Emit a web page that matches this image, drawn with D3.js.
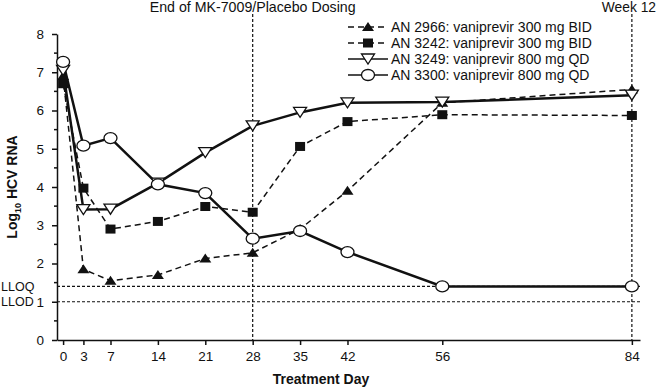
<!DOCTYPE html>
<html>
<head>
<meta charset="utf-8">
<script src="https://cdn.jsdelivr.net/npm/d3@7"></script>
<style>
  body { margin: 0; background: #fff; }
  text { font-family: "Liberation Sans", Arial, sans-serif; fill: #111; }
</style>
</head>
<body>
<div id="chart"></div>
<script>
// treatment days and log10 HCV RNA per patient
var days = [0, 3, 7, 14, 21, 28, 35, 42, 56, 84];
var an2966 = [6.9, 1.85, 1.55, 1.7, 2.13, 2.28, 2.9, 3.9, 6.2, 6.55];
var an3242 = [6.7, 3.97, 2.9, 3.1, 3.49, 3.34, 5.06, 5.71, 5.89, 5.87];
var an3249 = [7.05, 3.41, 3.42, 4.1, 4.9, 5.6, 5.95, 6.2, 6.22, 6.4];
var an3300 = [7.27, 5.08, 5.28, 4.07, 3.84, 2.65, 2.85, 2.3, 1.4, 1.4];
var seriesNames = ["AN 2966: vaniprevir 300 mg BID", "AN 3242: vaniprevir 300 mg BID",
                   "AN 3249: vaniprevir 800 mg QD", "AN 3300: vaniprevir 800 mg QD"];
var yTicks = [0, 1, 2, 3, 4, 5, 6, 7, 8];
var limits = [{name: "LLOQ", value: 1.4}, {name: "LLOD", value: 1}];
var markers = [{day: 28, label: "End of MK-7009/Placebo Dosing"}, {day: 84, label: "Week 12"}];

var width = 658, height = 387;
var svg = d3.select("#chart").append("svg")
  .attr("width", width).attr("height", height);

var x = d3.scaleLinear().domain([-0.9, 85.2]).range([57, 640]);
var y = d3.scaleLinear().domain([0, 8]).range([340, 34]);

// axes
var xAxis = svg.append("g")
  .attr("transform", "translate(0," + y(0) + ")")
  .call(d3.axisBottom(x).tickValues(days).tickSize(5).tickSizeOuter(0));
var yAxis = svg.append("g")
  .attr("transform", "translate(" + x.range()[0] + ",0)")
  .call(d3.axisLeft(y).tickValues(yTicks).tickSize(5).tickPadding(8).tickSizeOuter(0));
// minor ticks
yAxis.selectAll(".minor")
  .data(d3.range(0.5, 8, 1))
  .enter().append("line")
    .attr("x1", 0).attr("x2", -3)
    .attr("y1", function(d) { return y(d); })
    .attr("y2", function(d) { return y(d); })
    .attr("stroke", "#111");
[xAxis, yAxis].forEach(function(g) {
  g.selectAll("path, line").attr("stroke", "#111").attr("stroke-width", 1.5);
  g.selectAll("text").attr("font-size", 13.5).attr("font-family", "Liberation Sans, Arial, sans-serif").attr("fill", "#111");
});
xAxis.selectAll("text").attr("dy", "0.95em");

// LLOQ / LLOD lines
limits.forEach(function(l) {
  svg.append("line")
    .attr("x1", x.range()[0]).attr("x2", x.range()[1])
    .attr("y1", y(l.value)).attr("y2", y(l.value))
    .attr("stroke", "#111").attr("stroke-width", 1.2)
    .attr("stroke-dasharray", "3,2");
  svg.append("text")
    .attr("x", 1).attr("y", y(l.value))
    .attr("dy", "0.35em")
    .attr("font-size", 12.5)
    .text(l.name);
});

// vertical reference lines
markers.forEach(function(m, i) {
  svg.append("line")
    .attr("x1", x(m.day)).attr("x2", x(m.day))
    .attr("y1", 14).attr("y2", y(0))
    .attr("stroke", "#111").attr("stroke-width", 1.2)
    .attr("stroke-dasharray", "3,2");
  var last = i === markers.length - 1;
  svg.append("text")
    .attr("x", last ? width - 2 : x(m.day)).attr("y", 12)
    .attr("text-anchor", last ? "end" : "middle")
    .attr("font-size", last ? 13.8 : 14.2)
    .text(m.label);
});

// axis titles
svg.append("text")
  .attr("x", 321).attr("y", 384)
  .attr("text-anchor", "middle")
  .attr("font-size", 14).attr("font-weight", "bold")
  .text("Treatment Day");
var yl = svg.append("text")
  .attr("transform", "translate(17," + y(4) + ") rotate(-90)")
  .attr("text-anchor", "middle")
  .attr("font-size", 14).attr("font-weight", "bold");
yl.append("tspan").text("Log");
yl.append("tspan").attr("font-size", 9).attr("dy", 4).text("10");
yl.append("tspan").attr("dy", -4).text(" HCV RNA");

// series
var series = [
  {name: seriesNames[0], values: an2966, dash: "6,4", width: 1.5, shape: "triUp"},
  {name: seriesNames[1], values: an3242, dash: "6,4", width: 1.5, shape: "square"},
  {name: seriesNames[2], values: an3249, dash: null, width: 2.5, shape: "triDown"},
  {name: seriesNames[3], values: an3300, dash: null, width: 2.5, shape: "circle"}
];

var line = d3.line()
  .x(function(d) { return x(d[0]); })
  .y(function(d) { return y(d[1]); });

function drawMarker(g, shape, cx, cy) {
  if (shape === "triUp") {
    g.append("path")
      .attr("d", "M" + cx + "," + (cy - 5) + "L" + (cx + 6) + "," + (cy + 4) + "L" + (cx - 6) + "," + (cy + 4) + "Z")
      .attr("fill", "#111");
  } else if (shape === "square") {
    g.append("rect")
      .attr("x", cx - 5).attr("y", cy - 4.5).attr("width", 10).attr("height", 9)
      .attr("fill", "#111");
  } else if (shape === "triDown") {
    g.append("path")
      .attr("d", "M" + (cx - 6.5) + "," + (cy - 5) + "L" + (cx + 6.5) + "," + (cy - 5) + "L" + cx + "," + (cy + 5) + "Z")
      .attr("fill", "#fff").attr("stroke", "#111").attr("stroke-width", 1.3);
  } else {
    g.append("ellipse")
      .attr("cx", cx).attr("cy", cy).attr("rx", 6.5).attr("ry", 5.5)
      .attr("fill", "#fff").attr("stroke", "#111").attr("stroke-width", 1.3);
  }
}

series.forEach(function(s) {
  var pts = days.map(function(d, i) { return [d, s.values[i]]; });
  svg.append("path")
    .datum(pts)
    .attr("fill", "none")
    .attr("stroke", "#111")
    .attr("stroke-width", s.width)
    .attr("stroke-dasharray", s.dash)
    .attr("d", line);
});
series.forEach(function(s) {
  var g = svg.append("g");
  days.forEach(function(d, i) { drawMarker(g, s.shape, x(d), y(s.values[i])); });
});

// legend
var legend = svg.append("g").attr("transform", "translate(348,27)");
series.forEach(function(s, i) {
  var row = legend.append("g").attr("transform", "translate(0," + (i * 16) + ")");
  row.append("line")
    .attr("x1", 0).attr("x2", 40).attr("y1", 0).attr("y2", 0)
    .attr("stroke", "#111").attr("stroke-width", s.dash ? 1.5 : 1.3)
    .attr("stroke-dasharray", s.dash ? "6,4" : null);
  drawMarker(row, s.shape, 20, 0);
  row.append("text")
    .attr("x", 43).attr("y", 0).attr("dy", "0.35em")
    .attr("font-size", 14)
    .text(s.name);
});
</script>
</body>
</html>
